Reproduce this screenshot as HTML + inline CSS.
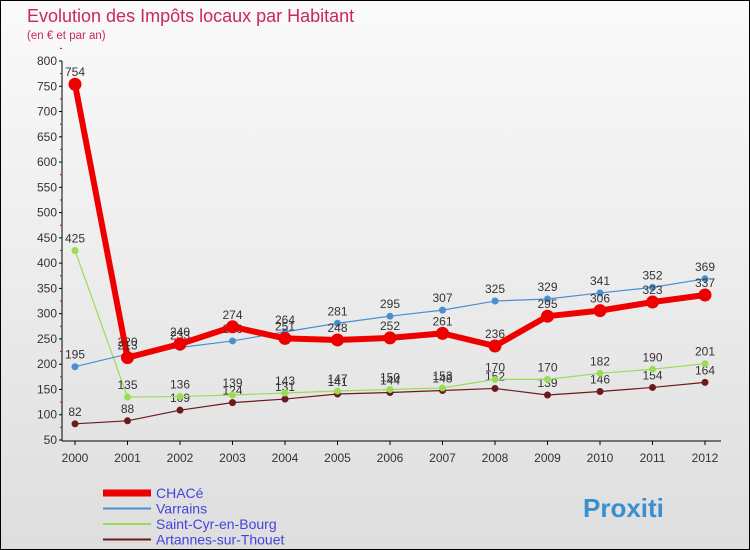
<!DOCTYPE html>
<html><head><meta charset="utf-8"><style>
body{margin:0}
#wrap{width:748px;height:548px;border:1px solid #000;background:linear-gradient(#fafafa,#dedede);position:relative;font-family:"Liberation Sans",sans-serif;overflow:hidden}
</style></head><body>
<div id="wrap">
<svg id="chart" width="748" height="548"></svg>
</div>
<script>
const years=[2000,2001,2002,2003,2004,2005,2006,2007,2008,2009,2010,2011,2012];
const chace=[754,213,240,274,251,248,252,261,236,295,306,323,337];
const varrains=[195,220,233,246,264,281,295,307,325,329,341,352,369];
const stcyr=[425,135,136,139,143,147,150,153,170,170,182,190,201];
const artannes=[82,88,109,124,131,141,144,148,152,139,146,154,164];
const yTicks=[50,100,150,200,250,300,350,400,450,500,550,600,650,700,750,800];
const NS='http://www.w3.org/2000/svg';
const svg=document.getElementById('chart');
const X=i=>74+i*52.5;
const Y=v=>439-(v-50)*(379/750);
function el(t,a,txt){const e=document.createElementNS(NS,t);for(const k in a)e.setAttribute(k,a[k]);if(txt!==undefined)e.textContent=txt;svg.appendChild(e);return e;}
let t=el('text',{x:26,y:21,'font-size':18,fill:'#c8285a'},'Evolution des Impôts locaux par Habitant');

t=el('text',{x:26,y:38,'font-size':11.5,fill:'#c8285a'},'(en € et par an)');

let ax=el('line',{x1:61,y1:60,x2:61,y2:440,stroke:'#000'});

ax=el('line',{x1:61,y1:440,x2:720,y2:440,stroke:'#000'});

yTicks.forEach(v=>{
 el('line',{x1:58,y1:Y(v),x2:61,y2:Y(v),stroke:'#000'});
 el('line',{x1:59,y1:Y(v+25),x2:61,y2:Y(v+25),stroke:'#d00'});
 const l=el('text',{x:56,y:Y(v)+4,'font-size':12,fill:'#333','text-anchor':'end'},v);
 
});
years.forEach((y,i)=>{
 el('line',{x1:X(i),y1:440,x2:X(i),y2:444,stroke:'#000'});
 const l=el('text',{x:X(i),y:461,'font-size':12,fill:'#333','text-anchor':'middle'},y);
 
});
function series(d,col,w,r,name){
 const p=el('polyline',{points:d.map((v,i)=>X(i)+','+Y(v)).join(' '),fill:'none',stroke:col,'stroke-width':w,'stroke-linejoin':'round'});
 
 d.forEach((v,i)=>{
  const c=el('circle',{cx:X(i),cy:Y(v),r:r,fill:col});
  
  const l=el('text',{x:X(i),y:Y(v)-8,'font-size':12,fill:'#333','text-anchor':'middle'},v);
  
 });
}
series(artannes,'#6b1b1b',1.2,3.5,'artannes');
series(stcyr,'#99dd55',1.2,3.5,'saint-cyr');
series(varrains,'#4a90d0',1.2,3.5,'varrains');
series(chace,'#ee0000',6,6.5,'chace');
const leg=[['CHACé','#ee0000',7],['Varrains','#4a90d0',2],['Saint-Cyr-en-Bourg','#99dd55',2],['Artannes-sur-Thouet','#6b1b1b',2]];
leg.forEach((l,i)=>{
 const y=492+i*15.5;
 const s=el('line',{x1:102,y1:y,x2:150,y2:y,stroke:l[1],'stroke-width':l[2]});
 
 const tx=el('text',{x:155,y:y+5,'font-size':14,fill:'#4444dd'},l[0]);
 
});
const lg=el('text',{x:582,y:516,'font-size':26,'font-weight':'bold',fill:'#3a8fd0'},'Proxiti');

</script>
</body></html>
